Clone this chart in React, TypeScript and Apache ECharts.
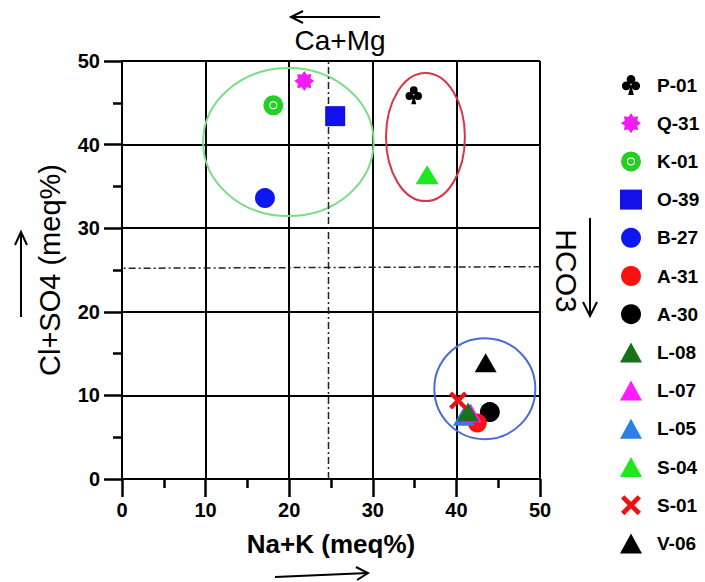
import React, { useEffect, useRef } from "react";
import * as echarts from "echarts";

// ---------- data ----------
const legendNames = ["P-01", "Q-31", "K-01", "O-39", "B-27", "A-31", "A-30", "L-08", "L-07", "L-05", "S-04", "S-01", "V-06"];
const naK = [34.9, 21.8, 18.1, 25.5, 17.1, 42.5, 44.0, 41.4, 41.7, 40.9, 36.5, 40.2, 43.5];
const clSO4 = [45.9, 47.6, 44.7, 43.4, 33.6, 6.7, 8.0, 8.0, 7.9, 7.5, 36.4, 9.4, 13.9];
const markerColors = ["#000000", "#f21cf2", "#22cf22", "#1212e8", "#0d18f0", "#ff1010", "#000000", "#18721c", "#ff1cff", "#2b7fe6", "#1ee81e", "#ee1111", "#000000"];
// draw order (back to front)
const drawOrder = ["P-01", "Q-31", "K-01", "O-39", "B-27", "S-04", "V-06", "A-30", "A-31", "L-05", "L-07", "L-08", "S-01"];

const ellipseCx = [19.9, 36.3, 43.4];
const ellipseCy = [40.3, 40.9, 10.8];
const ellipseRx = [10.2, 4.72, 6.04];
const ellipseRy = [8.85, 7.66, 6.04];
const ellipseColors = ["#7ddc86", "#d8344a", "#4a6bd6"];

const dividerX = 24.7;
const dividerY = [25.2, 25.4];

const FONT = "Liberation Sans, Arial, sans-serif";

// ---------- symbols ----------
const clubPath =
  "path://M30,28 A20,20 0 1,1 70,28 A20,20 0 1,1 30,28 Z M8,58 A20,20 0 1,1 48,58 A20,20 0 1,1 8,58 Z M52,58 A20,20 0 1,1 92,58 A20,20 0 1,1 52,58 Z M50,50 L63,100 L37,100 Z";
const ringPath =
  "path://M0,50 A50,50 0 1,1 100,50 A50,50 0 1,1 0,50 Z M70,50 A20,20 0 1,0 30,50 A20,20 0 1,0 70,50 Z M35,50 A15,15 0 1,1 65,50 A15,15 0 1,1 35,50 Z";
const crossPath =
  "path://M20,5 L50,35 L80,5 L95,20 L65,50 L95,80 L80,95 L50,65 L20,95 L5,80 L35,50 L5,20 Z";
function starPath(n: number, ro: number, ri: number) {
  let d = "";
  for (let i = 0; i < 2 * n; i++) {
    const r = i % 2 ? ri : ro;
    const a = (Math.PI * i) / n - Math.PI / 2;
    d += (i ? "L" : "M") + (50 + r * Math.cos(a)).toFixed(2) + "," + (50 + r * Math.sin(a)).toFixed(2);
  }
  return "path://" + d + "Z";
}
const symbolFor: Record<string, any> = {
  "P-01": [clubPath, 18],
  "Q-31": [starPath(8, 50, 34), 20],
  "K-01": [ringPath, 20],
  "O-39": ["rect", 20],
  "B-27": ["circle", 20],
  "A-31": ["circle", 19],
  "A-30": ["circle", 20],
  "L-08": ["triangle", [22, 19]],
  "L-07": ["triangle", [22, 19]],
  "L-05": ["triangle", [22, 19]],
  "S-04": ["triangle", [23, 19]],
  "S-01": [crossPath, 18],
  "V-06": ["triangle", [22, 19]],
};

export default function App() {
  const ref = useRef<HTMLDivElement>(null);
  useEffect(() => {
    if (!ref.current) return;
    const chart = echarts.init(ref.current, null, { renderer: "svg" });

    const scatterSeries = drawOrder.map((name) => {
      const i = legendNames.indexOf(name);
      const [sym, size] = symbolFor[name];
      return {
        type: "scatter",
        name,
        data: [[naK[i], clSO4[i]]],
        symbol: sym,
        symbolSize: size,
        symbolKeepAspect: true,
        itemStyle: { color: markerColors[i], opacity: 1 },
        z: 3,
        emphasis: { disabled: true },
      };
    });

    const ellipseData = ellipseCx.map((cx, i) => [cx, ellipseCy[i], ellipseRx[i], ellipseRy[i], i]);

    const axisCommon = {
      type: "value",
      min: 0,
      max: 50,
      interval: 10,
      axisLine: { show: true, onZero: false, lineStyle: { color: "#000", width: 2 } },
      axisTick: { show: true, length: 18, lineStyle: { color: "#000", width: 2.5 } },
      minorTick: { show: true, splitNumber: 2, length: 9, lineStyle: { color: "#000", width: 2.5 } },
      splitLine: { show: true, lineStyle: { color: "#000", width: 2 } },
    };

    chart.setOption({
      animation: false,
      grid: { left: 122, top: 61, width: 418, height: 418 },
      xAxis: {
        ...axisCommon,
        axisLabel: { margin: 21, fontFamily: FONT, fontWeight: "bold", fontSize: 20, color: "#000" },
        name: "Na+K (meq%)",
        nameLocation: "middle",
        nameGap: 52,
        nameTextStyle: { fontFamily: FONT, fontWeight: "bold", fontSize: 26, color: "#000" },
      },
      yAxis: {
        ...axisCommon,
        axisLabel: { margin: 22, fontFamily: FONT, fontWeight: "bold", fontSize: 20, color: "#000" },
        name: "Cl+SO4 (meq%)",
        nameLocation: "middle",
        nameGap: 58,
        nameTextStyle: { fontFamily: FONT, fontSize: 29, color: "#000" },
      },
      legend: {
        data: legendNames,
        orient: "vertical",
        left: 615,
        top: 70,
        itemWidth: 22,
        itemHeight: 20,
        itemGap: 18.2,
        selectedMode: false,
        textStyle: { fontFamily: FONT, fontWeight: "bold", fontSize: 19, color: "#000", padding: [0, 0, 0, 10] },
      },
      series: [
        {
          type: "custom",
          name: "ellipses",
          clip: false,
          z: 1,
          data: ellipseData,
          renderItem: (params: any, api: any) => {
            const c = api.coord([api.value(0), api.value(1)]);
            const s = api.size([api.value(2), api.value(3)]);
            return {
              type: "ellipse",
              shape: { cx: c[0], cy: c[1], rx: s[0], ry: s[1] },
              style: { fill: "none", stroke: ellipseColors[api.value(4)], lineWidth: 2 },
            };
          },
        },
        {
          type: "line",
          name: "dividerV",
          data: [[dividerX, 0], [dividerX, 50]],
          symbol: "none",
          clip: false,
          z: 2,
          lineStyle: { color: "#222", width: 1.5, type: [7, 3, 2, 3] },
        },
        {
          type: "line",
          name: "dividerH",
          data: [[-1, dividerY[0]], [50, dividerY[1]]],
          symbol: "none",
          clip: false,
          z: 2,
          lineStyle: { color: "#222", width: 1.5, type: [7, 3, 2, 3] },
        },
        ...scatterSeries,
      ],
      graphic: [
        // top arrow + Ca+Mg
        { type: "line", shape: { x1: 380, y1: 17, x2: 291, y2: 17 }, style: { stroke: "#000", lineWidth: 2 } },
        { type: "polyline", shape: { points: [[303, 11], [291, 17], [303, 23]] }, style: { stroke: "#000", lineWidth: 2, fill: "none" } },
        { type: "text", x: 340, y: 40, style: { text: "Ca+Mg", font: "28px " + FONT, fill: "#000", textAlign: "center", textVerticalAlign: "middle" } },
        // left arrow
        { type: "line", shape: { x1: 21, y1: 317, x2: 21, y2: 232 }, style: { stroke: "#000", lineWidth: 2 } },
        { type: "polyline", shape: { points: [[15, 245], [21, 232], [27, 245]] }, style: { stroke: "#000", lineWidth: 2, fill: "none" } },
        // right arrow + HCO3
        { type: "line", shape: { x1: 590, y1: 218, x2: 590, y2: 316 }, style: { stroke: "#000", lineWidth: 2 } },
        { type: "polyline", shape: { points: [[583, 302], [590, 316], [597, 302]] }, style: { stroke: "#000", lineWidth: 2, fill: "none" } },
        { type: "text", x: 566, y: 271, rotation: -Math.PI / 2, style: { text: "HCO3", font: "30px " + FONT, fill: "#000", textAlign: "center", textVerticalAlign: "middle" } },
        // bottom arrow
        { type: "line", shape: { x1: 275, y1: 577, x2: 368, y2: 573 }, style: { stroke: "#000", lineWidth: 2 } },
        { type: "polyline", shape: { points: [[356, 567], [368, 573], [357, 580]] }, style: { stroke: "#000", lineWidth: 2, fill: "none" } },
      ],
    });
    return () => chart.dispose();
  }, []);
  return <div ref={ref} style={{ position: "fixed", left: 0, top: 0, width: 705, height: 582, background: "#fff" }} />;
}
